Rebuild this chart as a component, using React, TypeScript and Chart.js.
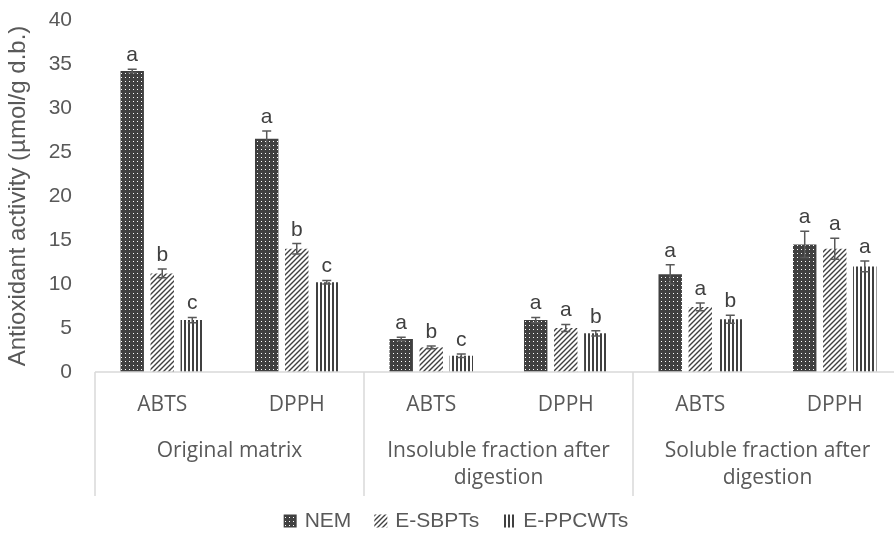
import React, { useEffect, useRef } from "react";
import { Chart, registerables } from "chart.js";

Chart.register(...registerables);

// ---- data ----
const categories = ["ABTS", "DPPH", "ABTS", "DPPH", "ABTS", "DPPH"];
const groupLabels = [
  ["Original matrix"],
  ["Insoluble fraction after", "digestion"],
  ["Soluble fraction after", "digestion"],
];
const seriesNames = ["NEM", "E-SBPTs", "E-PPCWTs"];

const nemValues = [34.2, 26.5, 3.75, 5.9, 11.1, 14.5];
const nemErrors = [0.2, 0.9, 0.2, 0.3, 1.1, 1.5];
const sbptValues = [11.2, 14.0, 2.8, 5.0, 7.4, 14.0];
const sbptErrors = [0.5, 0.6, 0.15, 0.4, 0.45, 1.2];
const ppcwtValues = [5.9, 10.2, 1.85, 4.4, 6.0, 12.0];
const ppcwtErrors = [0.3, 0.2, 0.2, 0.3, 0.45, 0.6];

const nemLetters = ["a", "a", "a", "a", "a", "a"];
const sbptLetters = ["b", "b", "b", "a", "a", "a"];
const ppcwtLetters = ["c", "c", "c", "b", "b", "a"];

const yMin = 0;
const yMax = 40;
const yStep = 5;
const yTitle = "Antioxidant activity (µmol/g d.b.)";

// ---- style ----
const FONT = "'Liberation Sans', Arial, sans-serif";
const CAT_FONT = "'Open Sans', 'DejaVu Sans', sans-serif";
const TEXT = "#595959";
const DARK = "#404040";
const LINE = "#d9d9d9";

function makePattern(kind: string): CanvasPattern | string {
  const c = document.createElement("canvas");
  const ctx = c.getContext("2d");
  if (!ctx) return DARK;
  if (kind === "dots") {
    c.width = 4;
    c.height = 4;
    ctx.fillStyle = DARK;
    ctx.fillRect(0, 0, 4, 4);
    ctx.fillStyle = "#ffffff";
    ctx.fillRect(1, 1, 1, 1);
  } else if (kind === "diag") {
    c.width = 5;
    c.height = 5;
    ctx.fillStyle = "#ffffff";
    ctx.fillRect(0, 0, 5, 5);
    ctx.strokeStyle = DARK;
    ctx.lineWidth = 1.4;
    ctx.beginPath();
    ctx.moveTo(-1, 6);
    ctx.lineTo(6, -1);
    ctx.moveTo(-1, 1);
    ctx.lineTo(1, -1);
    ctx.moveTo(4, 6);
    ctx.lineTo(6, 4);
    ctx.stroke();
  } else {
    c.width = 4;
    c.height = 4;
    ctx.fillStyle = "#ffffff";
    ctx.fillRect(0, 0, 4, 4);
    ctx.fillStyle = DARK;
    ctx.fillRect(0, 0, 2, 4);
  }
  const p = ctx.createPattern(c, "repeat");
  return p || DARK;
}

export default function App() {
  const ref = useRef<HTMLCanvasElement>(null);

  useEffect(() => {
    if (!ref.current) return;
    const patterns = [makePattern("dots"), makePattern("diag"), makePattern("vert")];
    const values = [nemValues, sbptValues, ppcwtValues];
    const errors = [nemErrors, sbptErrors, ppcwtErrors];
    const letters = [nemLetters, sbptLetters, ppcwtLetters];

    const overlay = {
      id: "overlay",
      afterDatasetsDraw(chart: any) {
        const ctx = chart.ctx as CanvasRenderingContext2D;
        const y = chart.scales.y;
        ctx.save();
        chart.data.datasets.forEach((_: any, di: number) => {
          const meta = chart.getDatasetMeta(di);
          meta.data.forEach((el: any, i: number) => {
            const v = values[di][i];
            const e = errors[di][i];
            const yt = y.getPixelForValue(v + e);
            const yb = y.getPixelForValue(v - e);
            const x = el.x;
            ctx.strokeStyle = "#595959";
            ctx.lineWidth = 1.5;
            ctx.beginPath();
            ctx.moveTo(x, yt);
            ctx.lineTo(x, yb);
            ctx.moveTo(x - 4.5, yt);
            ctx.lineTo(x + 4.5, yt);
            ctx.moveTo(x - 4.5, yb);
            ctx.lineTo(x + 4.5, yb);
            ctx.stroke();
            ctx.fillStyle = DARK;
            ctx.font = `21px ${FONT}`;
            ctx.textAlign = "center";
            ctx.textBaseline = "alphabetic";
            ctx.fillText(letters[di][i], x, yt - 8);
          });
        });
        ctx.restore();
      },
      afterDraw(chart: any) {
        const ctx = chart.ctx as CanvasRenderingContext2D;
        const xs = chart.scales.x;
        const area = chart.chartArea;
        const half = (xs.getPixelForValue(1) - xs.getPixelForValue(0)) / 2;
        ctx.save();
        // axis line
        ctx.strokeStyle = LINE;
        ctx.lineWidth = 1.5;
        ctx.beginPath();
        ctx.moveTo(area.left, area.bottom);
        ctx.lineTo(area.right, area.bottom);
        // group separators
        for (let g = 0; g <= groupLabels.length; g++) {
          const bx = g < groupLabels.length
            ? xs.getPixelForValue(g * 2) - half
            : xs.getPixelForValue(categories.length - 1) + half;
          ctx.moveTo(bx, area.bottom);
          ctx.lineTo(bx, area.bottom + 124);
        }
        ctx.stroke();
        // group labels
        ctx.fillStyle = TEXT;
        ctx.font = `21px ${CAT_FONT}`;
        ctx.textAlign = "center";
        ctx.textBaseline = "middle";
        groupLabels.forEach((lines, g) => {
          const cx = (xs.getPixelForValue(g * 2) + xs.getPixelForValue(g * 2 + 1)) / 2;
          lines.forEach((t, li) => {
            ctx.fillText(t, cx, area.bottom + 79 + li * 27);
          });
        });
        // legend
        ctx.font = `21px ${FONT}`;
        const box = 13;
        const gap = 8;
        const spacing = 23;
        const widths = seriesNames.map((n) => box + gap + ctx.measureText(n).width);
        const total = widths.reduce((a, b) => a + b, 0) + spacing * (seriesNames.length - 1);
        let lx = chart.width / 2 - total / 2;
        const ly = 521;
        ctx.textAlign = "left";
        seriesNames.forEach((n, i) => {
          ctx.fillStyle = patterns[i] as any;
          ctx.fillRect(lx, ly - box / 2, box, box);
          ctx.fillStyle = TEXT;
          ctx.fillText(n, lx + box + gap, ly);
          lx += widths[i] + spacing;
        });
        ctx.restore();
      },
    };

    const chart = new Chart(ref.current, {
      type: "bar",
      data: {
        labels: categories,
        datasets: seriesNames.map((n, i) => ({
          label: n,
          data: values[i],
          backgroundColor: patterns[i] as any,
          borderWidth: 0,
          categoryPercentage: 0.67,
          barPercentage: 0.78,
        })),
      },
      options: {
        animation: false,
        responsive: false,
        maintainAspectRatio: false,
        layout: { padding: { top: 20, right: 10, bottom: 41, left: 0 } },
        plugins: { legend: { display: false }, tooltip: { enabled: false } },
        scales: {
          x: {
            grid: { display: false, drawTicks: false },
            border: { display: false },
            ticks: { color: TEXT, font: { family: CAT_FONT, size: 21 }, padding: 20, maxRotation: 0 },
            afterFit: (s: any) => {
              s.height = 124;
            },
          },
          y: {
            min: yMin,
            max: yMax,
            ticks: { stepSize: yStep, color: TEXT, font: { family: FONT, size: 21 }, padding: 23 },
            grid: { display: false, drawTicks: false },
            border: { display: false },
            title: {
              display: true,
              text: yTitle,
              color: TEXT,
              font: { family: FONT, size: 24 },
              padding: { top: 4, bottom: 0 },
            },
            afterFit: (s: any) => {
              s.width = 95;
              s.paddingTop = 0;
              s.paddingBottom = 0;
            },
          },
        },
      } as any,
      plugins: [overlay],
    });
    return () => chart.destroy();
  }, []);

  return (
    <div
      style={{
        position: "absolute",
        left: 0,
        top: 0,
        width: 894,
        height: 537,
        overflow: "hidden",
        background: "#ffffff",
      }}
    >
      <canvas ref={ref} width={912} height={537} style={{ display: "block", width: 912, height: 537 }} />
    </div>
  );
}
